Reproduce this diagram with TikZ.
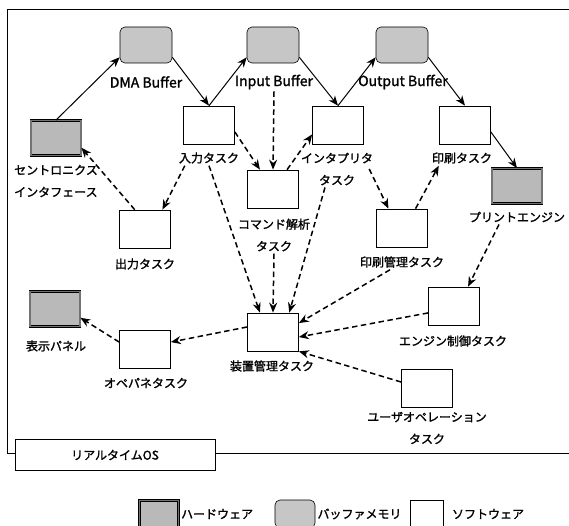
\documentclass[tikz,border=0pt]{standalone}
\usepackage{fontspec}
\setmainfont{Noto Sans CJK JP}[RawFeature={embolden=1.5}]
\usetikzlibrary{arrows.meta}

\begin{document}
\begin{tikzpicture}[x=1pt,y=-1pt,
  hw/.style={draw, line width=0.8pt, double=black!55, double distance=1.2pt, fill=gray!55,
    minimum width=50pt, minimum height=35pt, inner sep=0pt},
  buf/.style={draw, line width=0.6pt, rounded corners=5pt, fill=gray!45,
    minimum width=52pt, minimum height=36pt, inner sep=0pt},
  sw/.style={draw, line width=0.7pt, fill=white, minimum width=51pt, minimum height=38pt, inner sep=0pt},
  lbl/.style={font=\fontsize{12}{22}\selectfont, align=center, inner sep=2pt},
  buflbl/.style={font=\fontsize{14}{16}\selectfont, inner sep=2pt},
  solidarr/.style={-{Stealth[length=10pt,width=8pt]}, line width=1pt},
  dasharr/.style={-{Stealth[length=10pt,width=8pt]}, line width=1.5pt, dash pattern=on 5.5pt off 3.5pt}]
  \useasboundingbox (0,0) rectangle (569,526);

  \draw[line width=0.7pt] (569,9) -- (7,9) -- (7,453) -- (569,453);
  \node[draw, line width=0.7pt, fill=white, minimum width=200pt, minimum height=31pt, inner sep=0pt,
    font=\fontsize{12}{14}\selectfont] (os) at (115,455) {リアルタイムOS};

  \node[buf] (dma) at (146,45) {};
  \node[buflbl] (dmaL) at (146,82) {DMA Buffer};
  \node[buf] (inbuf) at (273,45) {};
  \node[buflbl] (inbufL) at (274,82) {Input Buffer};
  \node[buf] (outbuf) at (402,45) {};
  \node[buflbl] (outbufL) at (403,82) {Output Buffer};

  \node[hw] (centro) at (56,138) {};
  \node[lbl, align=left, anchor=west] (centroL) at (12,181) {セントロニクス\\インタフェース};
  \node[hw] (pengine) at (517,186) {};
  \node[lbl] (pengineL) at (517,217) {プリントエンジン};
  \node[hw] (hyouji) at (55,309) {};
  \node[lbl] (hyoujiL) at (56,346) {表示パネル};

  \node[sw] (nyuryoku) at (209,125) {};
  \node[lbl] (nyuryokuL) at (209,158) {入力タスク};
  \node[sw] (interp) at (338,125) {};
  \node[lbl] (interpL) at (337,169) {インタプリタ\\タスク};
  \node[sw] (insatsu) at (465,125) {};
  \node[lbl] (insatsuL) at (462,158) {印刷タスク};
  \node[sw] (command) at (273,189) {};
  \node[lbl] (commandL) at (274,235) {コマンド解析\\タスク};
  \node[sw] (shutsu) at (145,229) {};
  \node[lbl] (shutsuL) at (145,264) {出力タスク};
  \node[sw] (kanri) at (402,228) {};
  \node[lbl] (kanriL) at (402,262) {印刷管理タスク};
  \node[sw] (engine) at (454,306) {};
  \node[lbl] (engineL) at (453,341) {エンジン制御タスク};
  \node[sw] (souchi) at (273,332) {};
  \node[lbl] (souchiL) at (272,366) {装置管理タスク};
  \node[sw] (opepane) at (145,349) {};
  \node[lbl] (opepaneL) at (146,383) {オペパネタスク};
  \node[sw] (user) at (427,388) {};
  \node[lbl] (userL) at (427,428) {ユーザオペレーション\\タスク};

  \path (centro.north) edge[solidarr] (dma.205);
  \path (dma.-25) edge[solidarr] (nyuryoku.north);
  \path (nyuryoku.north) edge[solidarr] (inbuf.205);
  \path (inbuf.-25) edge[solidarr] (interp.north);
  \path (interp.north) edge[solidarr] (outbuf.205);
  \path (outbuf.-25) edge[solidarr] (insatsu.north);
  \path (insatsu.-15) edge[solidarr] (pengine.north);

  \path (inbufL.south) edge[dasharr] (command.north);
  \path (nyuryoku.-15) edge[dasharr] (command.124);
  \path (command.54) edge[dasharr] (interp.200);
  \path ([xshift=-6pt]interpL.east) edge[dasharr] (kanri.125);
  \path (kanri.55) edge[dasharr] ([xshift=9pt]insatsuL.south west);
  \path ([xshift=8pt]nyuryokuL.south west) edge[dasharr] (shutsu.48);
  \path (shutsu.118) edge[dasharr] (centro.-21);
  \path (nyuryokuL.south) edge[dasharr] (souchi.124);
  \path (commandL.south) edge[dasharr] (souchi.north);
  \path ([xshift=-12pt]interpL.south) edge[dasharr] (souchi.50);
  \path ([xshift=-12pt]kanriL.south) edge[dasharr] (souchi.19);
  \path (engine.195) edge[dasharr] (souchi.-11);
  \path (user.167) edge[dasharr] (souchi.south east);
  \path (souchi.169) edge[dasharr] (opepane.15);
  \path (opepane.165) edge[dasharr] (hyouji.-19);
  \path ([xshift=-18pt]pengineL.south) edge[dasharr] (engine.54);

  \node[hw, minimum width=39pt, minimum height=27pt] (legHW) at (159,514) {};
  \node[lbl, anchor=west] (legHWL) at (legHW.east) {ハードウェア};
  \node[buf, minimum width=40pt, minimum height=28pt] (legBuf) at (295,514) {};
  \node[lbl, anchor=west] (legBufL) at (legBuf.east) {バッファメモリ};
  \node[sw, minimum width=33pt, minimum height=28pt] (legSW) at (427,514) {};
  \node[lbl, anchor=west] (legSWL) at ([xshift=6pt]legSW.east) {ソフトウェア};
\end{tikzpicture}
\end{document}
